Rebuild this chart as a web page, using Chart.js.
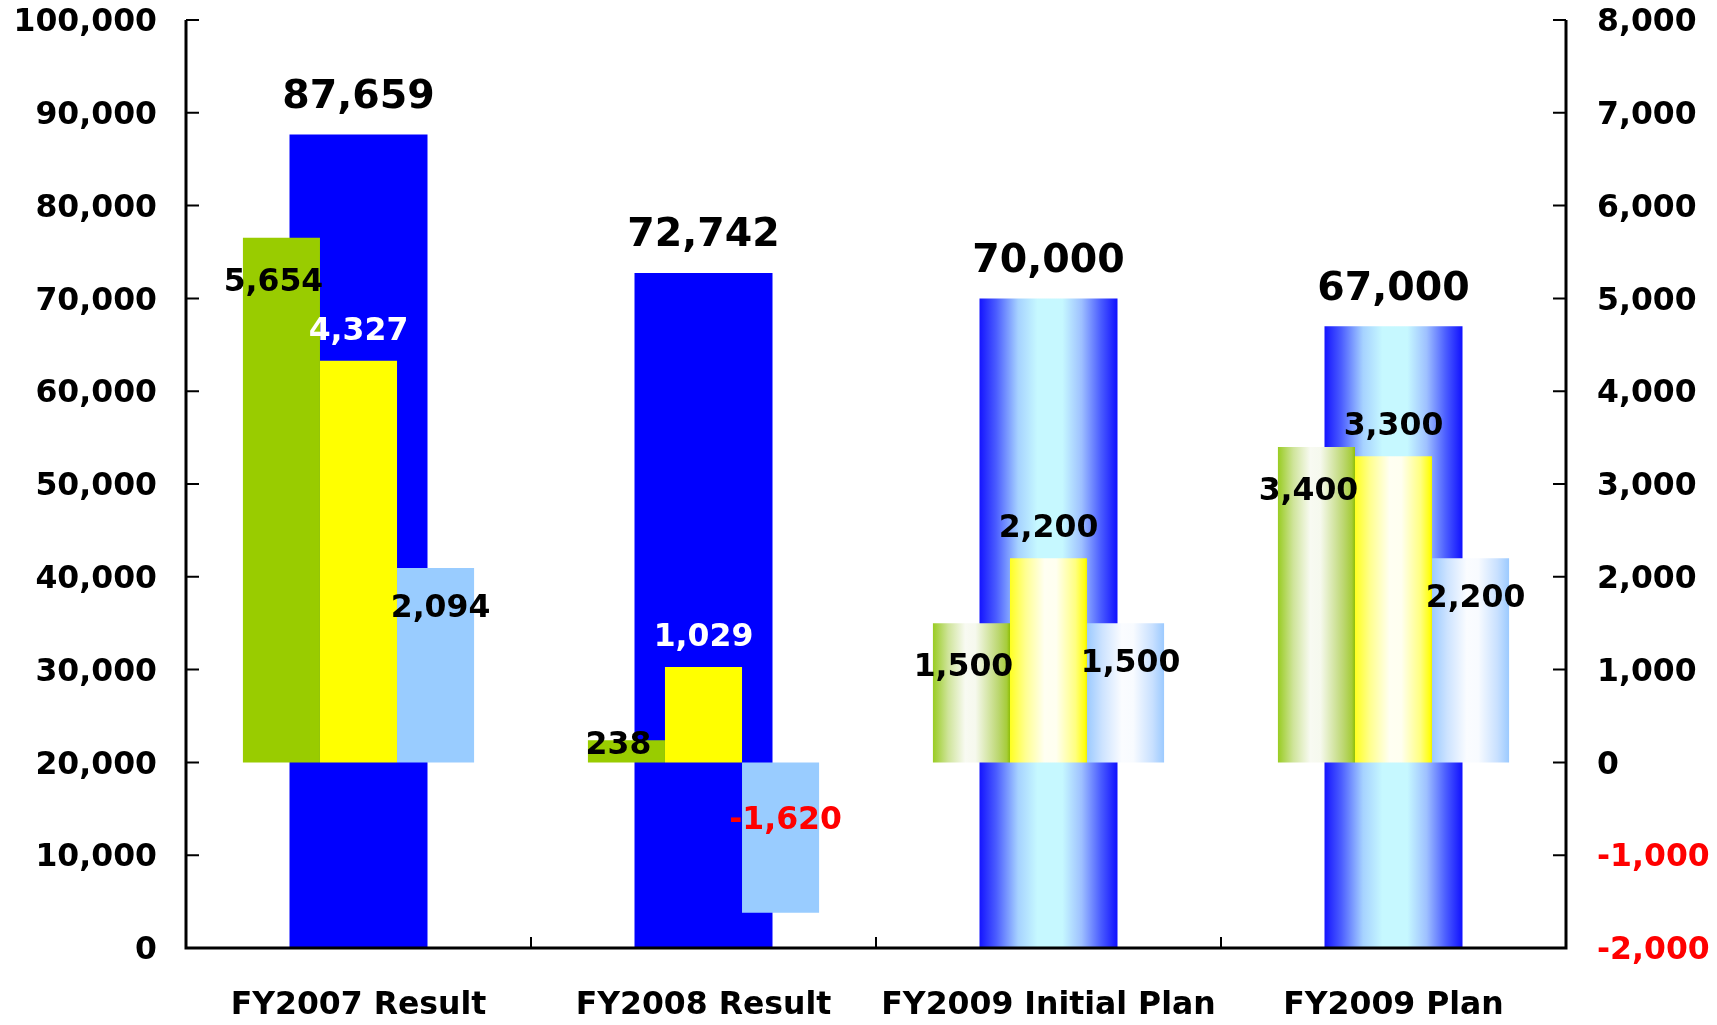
<!DOCTYPE html>
<html><head><meta charset="utf-8">
<script src="https://cdn.jsdelivr.net/npm/chart.js@4.4.1/dist/chart.umd.min.js"></script>
<style>html,body{margin:0;padding:0;background:#fff}canvas{display:block}</style>
</head><body>
<canvas id="c" width="1717" height="1025"></canvas>
<script>
// ---- data ----
const categories = ['FY2007 Result', 'FY2008 Result', 'FY2009 Initial Plan', 'FY2009 Plan'];
const netSales = [87659, 72742, 70000, 67000];
const seriesGreen = [5654, 238, 1500, 3400];
const seriesYellow = [4327, 1029, 2200, 3300];
const seriesLightBlue = [2094, -1620, 1500, 2200];
const leftAxisRange = [0, 100000, 10000];
const rightAxisRange = [-2000, 8000, 1000];
const gradientCategories = [2, 3];

// ---- styles ----
const FONT = "'DejaVu Sans', Verdana, sans-serif";
const fmt = v => v.toLocaleString('en-US');

const gradStops = {
  blue: [[0, '#1414ff'], [0.12, '#4a5cff'], [0.28, '#a6d2ff'], [0.42, '#c6f8ff'], [0.6, '#c6f8ff'], [0.74, '#9ec0ff'], [0.88, '#4a5cff'], [1, '#1010ff']],
  green: [[0, '#99cc22'], [0.2, '#cfe49a'], [0.42, '#f8faf2'], [0.55, '#f6f9ee'], [0.85, '#bcd770'], [0.96, '#a6cc3a'], [1, '#90c000']],
  yellow: [[0, '#ffff20'], [0.2, '#ffff90'], [0.45, '#fffff2'], [0.6, '#fffff0'], [0.85, '#ffff80'], [0.97, '#ffff10'], [1, '#f0f000']],
  lightblue: [[0, '#9ccaff'], [0.2, '#cde3ff'], [0.45, '#fafcff'], [0.6, '#f8fbff'], [0.85, '#c8e0ff'], [1, '#9ccaff']]
};

const gradientPlugin = {
  id: 'barGradients',
  beforeDatasetsDraw(chart) {
    const ctx = chart.ctx;
    chart.data.datasets.forEach((ds, di) => {
      const meta = chart.getDatasetMeta(di);
      const stops = gradStops[ds.gradKey];
      meta.data.forEach((el, i) => {
        if (!gradientCategories.includes(i)) return;
        const {x, width} = el.getProps(['x', 'width'], true);
        const g = ctx.createLinearGradient(x - width / 2, 0, x + width / 2, 0);
        stops.forEach(s => g.addColorStop(s[0], s[1]));
        el.options = Object.assign({}, el.options, {backgroundColor: g});
      });
    });
  }
};

const axisPlugin = {
  id: 'axisTicks',
  afterDatasetsDraw(chart) {
    const ctx = chart.ctx;
    const {left, right, top, bottom} = chart.chartArea;
    const sx = chart.scales.x, sy = chart.scales.y, sy2 = chart.scales.y2;
    ctx.save();
    ctx.strokeStyle = '#000';
    ctx.lineWidth = 3;
    ctx.beginPath();
    ctx.moveTo(left, top); ctx.lineTo(left, bottom + 1.5);
    ctx.moveTo(right, top); ctx.lineTo(right, bottom + 1.5);
    ctx.moveTo(left - 1.5, bottom); ctx.lineTo(right + 1.5, bottom);
    ctx.stroke();
    ctx.lineWidth = 2;
    ctx.beginPath();
    sy.ticks.forEach((t, i) => { const y = sy.getPixelForTick(i); ctx.moveTo(left, y); ctx.lineTo(left + 13, y); });
    sy2.ticks.forEach((t, i) => { const y = sy2.getPixelForTick(i); ctx.moveTo(right, y); ctx.lineTo(right - 13, y); });
    for (let i = 0; i < categories.length - 1; i++) {
      const xb = (sx.getPixelForValue(i) + sx.getPixelForValue(i + 1)) / 2;
      ctx.moveTo(xb, bottom); ctx.lineTo(xb, bottom - 11);
    }
    ctx.stroke();
    ctx.restore();
  }
};

const labelPlugin = {
  id: 'valueLabels',
  afterDatasetsDraw(chart) {
    const ctx = chart.ctx;
    ctx.save();
    ctx.textAlign = 'center';
    ctx.textBaseline = 'middle';
    chart.data.datasets.forEach((ds, di) => {
      const meta = chart.getDatasetMeta(di);
      const c = ds.labelCfg;
      ctx.font = `bold ${c.size}px ${FONT}`;
      meta.data.forEach((el, i) => {
        const v = ds.data[i];
        const {x, y, base} = el.getProps(['x', 'y', 'base'], true);
        const h = Math.abs(base - y);
        let ly;
        if (v < 0) ly = base + c.negOffset;
        else if (c.mode === 'above') ly = y - c.offset;
        else ly = h > c.offset * 1.5 ? y + c.offset : y + 5;
        ctx.fillStyle = v < 0 ? '#ff0000' : c.colors[i];
        ctx.fillText(fmt(v), x + c.dx, ly);
      });
    });
    ctx.restore();
  }
};

const tickFont = {family: FONT, size: 31.5, weight: 'bold'};
const noPad = s => { s.paddingTop = 0; s.paddingBottom = 0; s.paddingLeft = 0; s.paddingRight = 0; };

new Chart(document.getElementById('c'), {
  type: 'bar',
  data: {
    labels: categories,
    datasets: [
      {
        label: 'Operating income', data: seriesGreen, yAxisID: 'y2', order: 1,
        backgroundColor: '#99cc00', categoryPercentage: 0.67, barPercentage: 1, gradKey: 'green',
        labelCfg: {mode: 'inside', offset: 45, negOffset: 58, dx: -8, size: 31.5, colors: ['#000', '#000', '#000', '#000']}
      },
      {
        label: 'Ordinary income', data: seriesYellow, yAxisID: 'y2', order: 1,
        backgroundColor: '#ffff00', categoryPercentage: 0.67, barPercentage: 1, gradKey: 'yellow',
        labelCfg: {mode: 'above', offset: 29, negOffset: 58, dx: 0, size: 31.5, colors: ['#ffffff', '#ffffff', '#000', '#000']}
      },
      {
        label: 'Net income', data: seriesLightBlue, yAxisID: 'y2', order: 1,
        backgroundColor: '#99ccff', categoryPercentage: 0.67, barPercentage: 1, gradKey: 'lightblue',
        labelCfg: {mode: 'inside', offset: 41, negOffset: 58, dx: 5, size: 31.5, colors: ['#000', '#000', '#000', '#000']}
      },
      {
        label: 'Net sales', data: netSales, yAxisID: 'y', order: 2, grouped: false,
        backgroundColor: '#0000ff', categoryPercentage: 1, barPercentage: 0.4, gradKey: 'blue',
        labelCfg: {mode: 'above', offset: 37, negOffset: 58, dx: 0, size: 39.5, colors: ['#000', '#000', '#000', '#000']}
      }
    ]
  },
  options: {
    responsive: false,
    animation: false,
    devicePixelRatio: 1,
    layout: {padding: {top: 20, left: 0, right: 0, bottom: 0}},
    plugins: {legend: {display: false}, tooltip: {enabled: false}},
    scales: {
      x: {
        grid: {display: false, drawTicks: false}, border: {display: false},
        ticks: {color: '#000', font: tickFont, padding: 39, maxRotation: 0, autoSkip: false},
        afterFit: s => { s.height = 77; noPad(s); }
      },
      y: {
        position: 'left', min: leftAxisRange[0], max: leftAxisRange[1],
        grid: {display: false, drawTicks: false}, border: {display: false},
        ticks: {stepSize: leftAxisRange[2], color: '#000', font: tickFont, padding: 29, labelOffset: 3, callback: v => fmt(v)},
        afterFit: s => { s.width = 186; noPad(s); }
      },
      y2: {
        position: 'right', min: rightAxisRange[0], max: rightAxisRange[1],
        grid: {display: false, drawTicks: false}, border: {display: false},
        ticks: {stepSize: rightAxisRange[2], font: tickFont, padding: 31, labelOffset: 3,
          color: ctx => (ctx.tick && ctx.tick.value < 0) ? '#ff0000' : '#000',
          callback: v => fmt(v)},
        afterFit: s => { s.width = 151; noPad(s); }
      }
    }
  },
  plugins: [gradientPlugin, axisPlugin, labelPlugin]
});
</script>
</body></html>
